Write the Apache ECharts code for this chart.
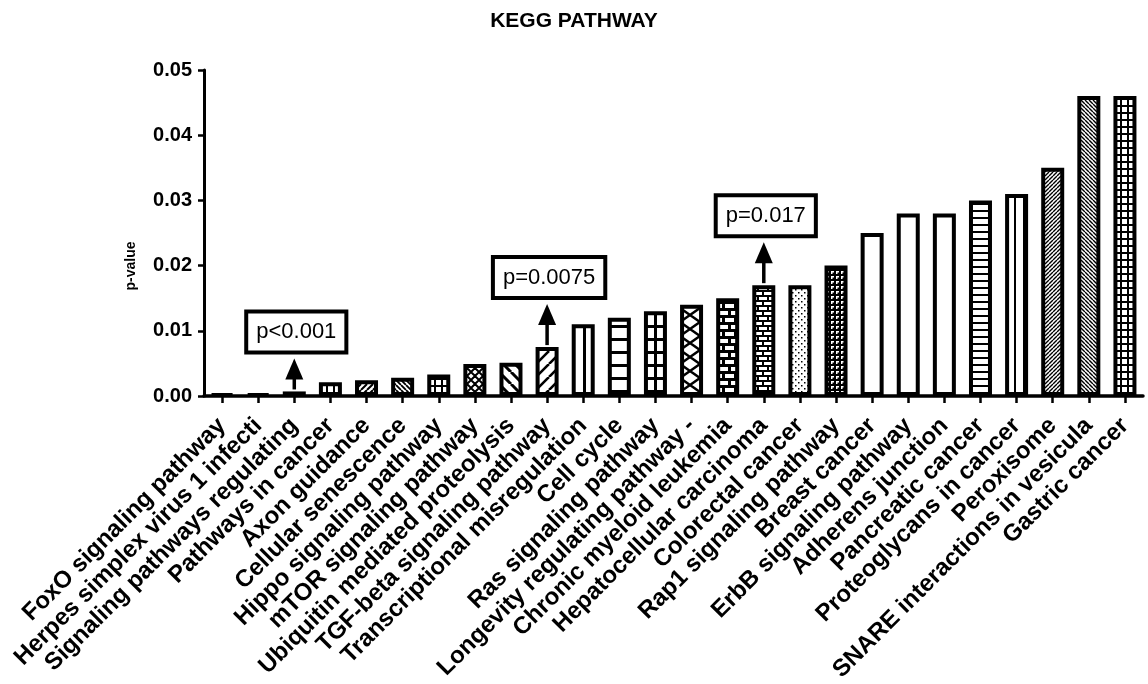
<!DOCTYPE html>
<html>
<head>
<meta charset="utf-8">
<script src="https://cdn.jsdelivr.net/npm/echarts@6/dist/echarts.min.js"></script>
<style>
  html, body { margin: 0; padding: 0; background: #fff; }
  #chart { width: 1148px; height: 684px; }
</style>
</head>
<body>
<div id="chart"></div>
<script>
// KEGG pathways, ordered by enrichment p-value
const categories = [
  'FoxO signaling pathway',
  'Herpes simplex virus 1 infecti',
  'Signaling pathways regulating',
  'Pathways in cancer',
  'Axon guidance',
  'Cellular senescence',
  'Hippo signaling pathway',
  'mTOR signaling pathway',
  'Ubiquitin mediated proteolysis',
  'TGF-beta signaling pathway',
  'Transcriptional misregulation',
  'Cell cycle',
  'Ras signaling pathway',
  'Longevity regulating pathway -',
  'Chronic myeloid leukemia',
  'Hepatocellular carcinoma',
  'Colorectal cancer',
  'Rap1 signaling pathway',
  'Breast cancer',
  'ErbB signaling pathway',
  'Adherens junction',
  'Pancreatic cancer',
  'Proteoglycans in cancer',
  'Peroxisome',
  'SNARE interactions in vesicula',
  'Gastric cancer'
];

const pValues = [
  0.0003, 0.0003, 0.0007, 0.0021, 0.0024, 0.0028, 0.0033, 0.0049, 0.0051, 0.0075,
  0.011, 0.012, 0.013, 0.014, 0.015, 0.017, 0.017, 0.020, 0.025, 0.028,
  0.028, 0.030, 0.031, 0.035, 0.046, 0.046
];

// y axis range and step
const yMin = 0;
const yMax = 0.05;
const yStep = 0.01;

// callouts pointing at individual bars
const callouts = [
  { index: 2, text: 'p<0.001' },
  { index: 9, text: 'p=0.0075' },
  { index: 15, text: 'p=0.017' }
];

// ---- styling ----
const FONT = '"Liberation Sans", Arial, Helvetica, sans-serif';
const BAR_WIDTH = 23;
const BORDER = 4;

// hatch fill used by each bar
const fillKinds = [
  'white', 'white', 'white', 'vlines7', 'fwd6', 'back5', 'grid7', 'weave', 'back12', 'fwd13',
  'vlines11', 'hlines13', 'gridRas', 'diamond', 'brickDark', 'brickLight', 'stipple', 'darkDots',
  'white', 'white', 'white', 'hlines7', 'vlines9', 'fwd4', 'back4', 'gridFine'
];
const calloutArrowLen = [31, 41, 41];

function tile(w, h, draw) {
  const c = document.createElement('canvas');
  c.width = w; c.height = h;
  const g = c.getContext('2d');
  g.fillStyle = '#fff';
  g.fillRect(0, 0, w, h);
  g.fillStyle = '#000';
  g.strokeStyle = '#000';
  draw(g, w, h);
  return c;
}
function diagLines(g, s, lw, dir) {
  g.lineWidth = lw;
  g.beginPath();
  for (let k = -1; k <= 1; k++) {
    if (dir > 0) { g.moveTo(k * s, s); g.lineTo(k * s + s, 0); }
    else { g.moveTo(k * s, 0); g.lineTo(k * s + s, s); }
  }
  g.stroke();
}

const tiles = {
  white: null,
  vlines7: () => tile(7, 4, (g, w, h) => g.fillRect(0, 0, 2, h)),
  vlines9: () => tile(9, 4, (g, w, h) => g.fillRect(0, 0, 2, h)),
  vlines11: () => tile(11, 4, (g, w, h) => g.fillRect(0, 0, 3, h)),
  hlines7: () => tile(4, 7, (g, w) => g.fillRect(0, 0, w, 2)),
  hlines13: () => tile(4, 13, (g, w) => g.fillRect(0, 0, w, 3)),
  fwd4: () => tile(4, 4, (g, w) => diagLines(g, w, 1.4, 1)),
  fwd6: () => tile(6, 6, (g, w) => diagLines(g, w, 2, 1)),
  fwd13: () => tile(13, 13, (g, w) => diagLines(g, w, 2.6, 1)),
  back4: () => tile(4, 4, (g, w) => diagLines(g, w, 1.4, -1)),
  back5: () => tile(5, 5, (g, w) => diagLines(g, w, 1.8, -1)),
  back12: () => tile(12, 12, (g, w) => diagLines(g, w, 3, -1)),
  grid7: () => tile(7, 7, (g, w, h) => { g.fillRect(0, 0, 2, h); g.fillRect(0, 0, w, 2); }),
  gridFine: () => tile(7, 7, (g, w, h) => { g.fillRect(0, 0, 2, h); g.fillRect(0, 0, w, 2); }),
  gridRas: () => tile(10, 13, (g, w, h) => { g.fillRect(0, 0, 3, h); g.fillRect(0, 0, w, 3); }),
  weave: () => tile(8, 8, (g) => {
    g.lineWidth = 2;
    g.beginPath();
    g.moveTo(0, 4); g.lineTo(4, 0);
    g.moveTo(4, 8); g.lineTo(8, 4);
    g.moveTo(4, 0); g.lineTo(8, 4);
    g.moveTo(0, 4); g.lineTo(4, 8);
    g.stroke();
  }),
  diamond: () => tile(20, 14, (g, w, h) => {
    g.lineWidth = 2.5;
    g.beginPath();
    g.moveTo(0, 0); g.lineTo(w, h);
    g.moveTo(0, h); g.lineTo(w, 0);
    g.stroke();
  }),
  brickDark: () => tile(12, 14, (g, w) => {
    g.fillRect(0, 0, w, 3); g.fillRect(0, 7, w, 3);
    g.fillRect(0, 0, 3, 7); g.fillRect(6, 7, 3, 7);
  }),
  brickLight: () => tile(10, 10, (g, w) => {
    g.fillRect(0, 0, w, 2); g.fillRect(0, 5, w, 2);
    g.fillRect(0, 0, 2, 5); g.fillRect(5, 5, 2, 5);
  }),
  stipple: () => tile(6, 6, (g) => {
    g.fillRect(1, 1, 1.5, 1.5); g.fillRect(4, 4, 1.5, 1.5);
  }),
  darkDots: () => tile(5, 5, (g, w, h) => {
    g.fillRect(0, 0, w, h);
    g.fillStyle = '#fff';
    g.fillRect(1, 1, 3, 1.5); g.fillRect(1, 1, 1.5, 3);
  })
};

const chart = echarts.init(document.getElementById('chart'), null, { renderer: 'canvas' });

function barFill(i, xOffset) {
  const make = tiles[fillKinds[i]];
  if (!make) return '#fff';
  return { image: make(), repeat: 'repeat', x: xOffset || 0, y: 0 };
}

function buildData(offsets) {
  return pValues.map((v, i) => ({
    value: v,
    itemStyle: { color: barFill(i, offsets ? offsets[i] : 0) }
  }));
}

const option = {
  animation: false,
  backgroundColor: '#fff',
  title: {
    text: 'KEGG PATHWAY',
    left: 'center',
    top: 6,
    textStyle: { fontFamily: FONT, fontSize: 21, fontWeight: 'bold', color: '#000' }
  },
  grid: {
    left: 204, right: 5, top: 70, bottom: 288,
    outerBoundsMode: 'none'
  },
  xAxis: {
    type: 'category',
    data: categories,
    boundaryGap: true,
    axisLine: { show: true, lineStyle: { color: '#000', width: 3.5 } },
    axisTick: { show: true, alignWithLabel: true, length: 7, lineStyle: { color: '#000', width: 2.5 } },
    axisLabel: {
      interval: 0, rotate: 45, margin: 26,
      fontFamily: FONT, fontSize: 24, fontWeight: 'bold', color: '#000'
    },
    splitLine: { show: false }
  },
  yAxis: {
    type: 'value',
    min: yMin, max: yMax, interval: yStep,
    name: 'p-value',
    nameLocation: 'middle',
    nameGap: 66,
    nameRotate: 90,
    nameTextStyle: {
      fontFamily: FONT, fontSize: 14, fontWeight: 'bold', color: '#000',
      padding: [0, 66, 0, 0]
    },
    axisLine: { show: true, lineStyle: { color: '#000', width: 3 } },
    axisTick: { show: true, length: 6, lineStyle: { color: '#000', width: 2.5 } },
    axisLabel: {
      margin: 12,
      fontFamily: FONT, fontSize: 20, fontWeight: 'bold', color: '#000',
      formatter: (v) => v.toFixed(2)
    },
    splitLine: { show: false }
  },
  series: [{
    type: 'bar',
    data: buildData(null),
    barWidth: BAR_WIDTH,
    silent: true,
    itemStyle: { borderColor: '#000', borderWidth: BORDER },
    emphasis: { disabled: true }
  }]
};

chart.setOption(option);

// align each hatch with the left edge of its own bar
const offsets = pValues.map((v, i) => {
  const cx = chart.convertToPixel({ xAxisIndex: 0 }, i);
  return Math.round(cx - BAR_WIDTH / 2);
});

// callouts: boxed label with an arrow rising from the bar top
const graphics = [];
callouts.forEach((c, k) => {
  const [cx, cy] = chart.convertToPixel({ seriesIndex: 0 }, [c.index, pValues[c.index]]);
  const top = cy - BORDER / 2;
  const tip = top - calloutArrowLen[k];
  graphics.push({
    type: 'line', silent: true,
    shape: { x1: cx, y1: top, x2: cx, y2: tip + 16 },
    style: { stroke: '#000', lineWidth: 3.5 }
  });
  graphics.push({
    type: 'polygon', silent: true,
    shape: { points: [[cx - 9, tip + 21], [cx + 9, tip + 21], [cx, tip]] },
    style: { fill: '#000' }
  });
  graphics.push({
    type: 'text', silent: true,
    x: cx + 2, y: tip - 8,
    style: {
      text: c.text,
      font: '22px ' + FONT,
      fill: '#000',
      align: 'center',
      verticalAlign: 'bottom',
      lineHeight: 22,
      padding: [8, 8, 7, 8],
      backgroundColor: '#fff',
      borderColor: '#000',
      borderWidth: 4
    }
  });
});

chart.setOption({
  series: [{ data: buildData(offsets) }],
  graphic: graphics
});
</script>
</body>
</html>
